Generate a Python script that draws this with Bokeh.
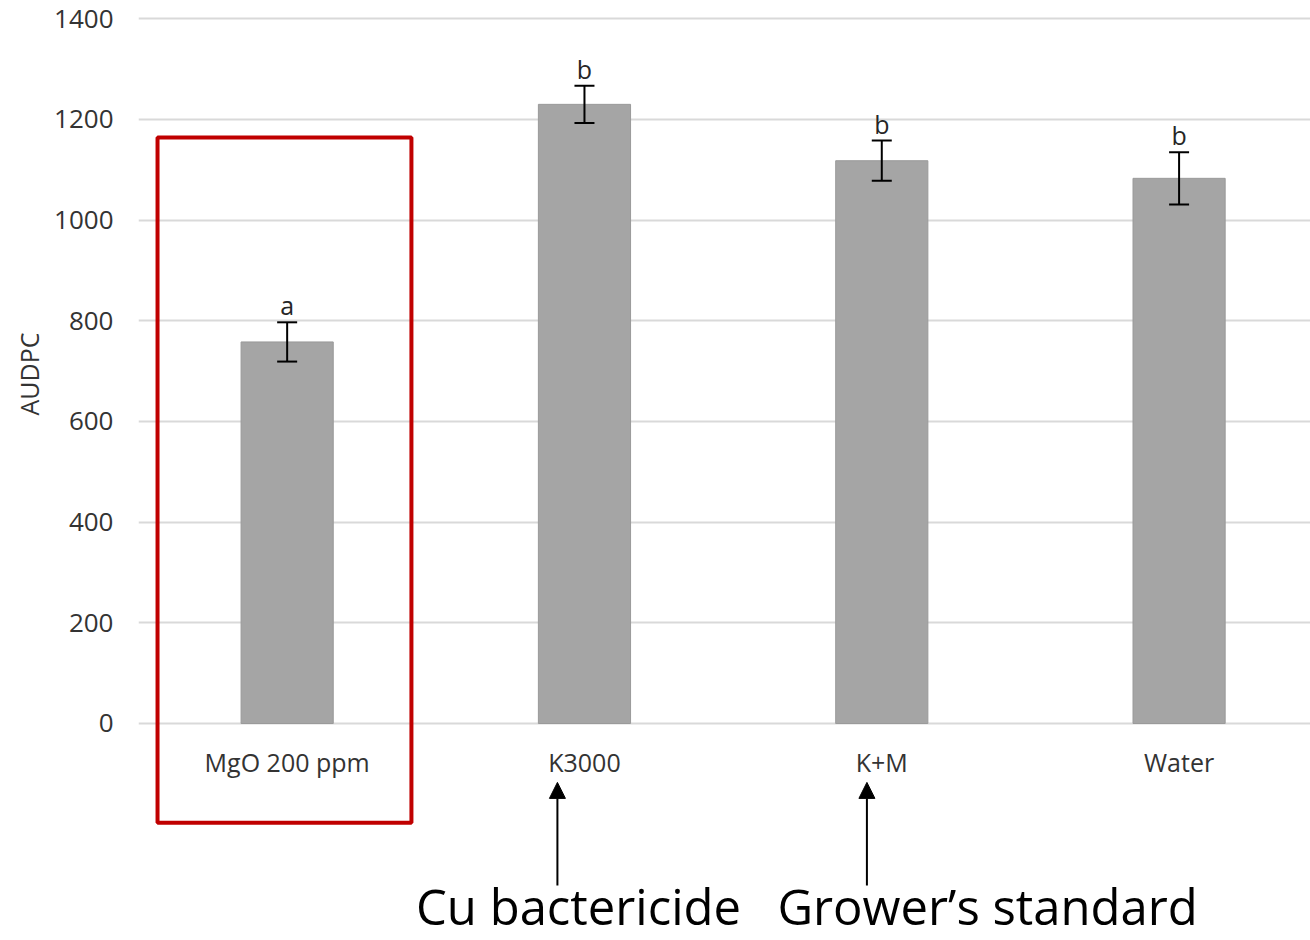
from bokeh.plotting import figure
from bokeh.models import (Range1d, FixedTicker, Whisker, TeeHead, ColumnDataSource,
                          BoxAnnotation, Arrow, NormalHead, Label, Title)
from bokeh.embed import file_html
from bokeh.resources import INLINE
from bokeh.core.properties import value

# ---- data ----
categories = ["MgO 200 ppm", "K3000", "K+M", "Water"]
audpc = [758, 1230, 1118, 1083]
err = [39, 37, 40, 52]
letters = ["a", "b", "b", "b"]
y_ticks = [0, 200, 400, 600, 800, 1000, 1200, 1400]
y_title = "AUDPC"
notes = ["Cu bactericide", "Grower\u2019s standard"]

FONT = "Open Sans"
xs = list(range(len(categories)))

src = ColumnDataSource(dict(
    x=xs,
    top=audpc,
    upper=[v + e for v, e in zip(audpc, err)],
    lower=[v - e for v, e in zip(audpc, err)],
    letter=letters,
    cat=categories,
))

p = figure(width=1310, height=940,
           x_range=Range1d(-0.5, 3.442), y_range=Range1d(-431.1, 1436.3),
           output_backend="svg", toolbar_location=None, x_axis_location=None,
           min_border_left=138, min_border_right=0, min_border_top=0, min_border_bottom=0)
p.outline_line_color = None
p.background_fill_color = "white"

# y axis
ax = p.yaxis[0]
ax.ticker = FixedTicker(ticks=y_ticks)
ax.axis_line_color = None
ax.major_tick_line_color = None
ax.minor_tick_line_color = None
ax.major_tick_out = 0
ax.major_tick_in = 0
ax.major_label_standoff = 25
ax.major_label_text_font = FONT
ax.major_label_text_font_size = "26px"
ax.major_label_text_color = "#333333"

p.xgrid.visible = False
p.ygrid.grid_line_color = "#d9d9d9"
p.ygrid.grid_line_width = 2

# axis title, placed in the left panel (rotated)
p.add_layout(Title(text=y_title, align="left", offset=525, standoff=12,
                   text_font=FONT, text_font_size="25px", text_font_style="normal",
                   text_color="#333333"), "left")

# bars
p.vbar(x="x", top="top", bottom=0, width=0.31, source=src,
       fill_color="#a5a5a5", line_color="#9a9a9a", line_width=1)

# error bars
wh = Whisker(source=src, base="x", upper="upper", lower="lower",
             line_color="black", line_width=2, level="annotation",
             upper_head=TeeHead(size=20, line_color="black", line_width=2),
             lower_head=TeeHead(size=20, line_color="black", line_width=2))
p.add_layout(wh)

# significance letters
p.text(x="x", y="upper", text="letter", source=src, y_offset=-17,
       text_align="center", text_baseline="middle",
       text_font=value(FONT), text_font_size="25px", text_color="#262626")

# category labels
p.text(x="x", y=0, text="cat", source=src, y_offset=39,
       text_align="center", text_baseline="middle",
       text_font=value(FONT), text_font_size="25px", text_color="#333333")

# red highlight box
p.add_layout(BoxAnnotation(left=-0.436, right=0.418, top=1164, bottom=-197,
                           fill_color=None, fill_alpha=0,
                           line_color="#c00000", line_alpha=1.0, line_width=4))

# arrows
for xa in (xs[1] - 0.091, xs[2] - 0.05):
    p.add_layout(Arrow(end=NormalHead(size=16, fill_color="black", line_color="black", line_width=1),
                       x_start=xa, y_start=-322, x_end=xa, y_end=-117,
                       line_color="black", line_width=2))

# big notes
for txt, xc in zip(notes, (0.98, 2.356)):
    p.add_layout(Label(x=xc, y=-361.6, text=txt, text_align="center",
                       text_baseline="middle", text_font=FONT,
                       text_font_size="49px", text_color="black"))

open("out.html", "w").write(file_html(p, INLINE))
